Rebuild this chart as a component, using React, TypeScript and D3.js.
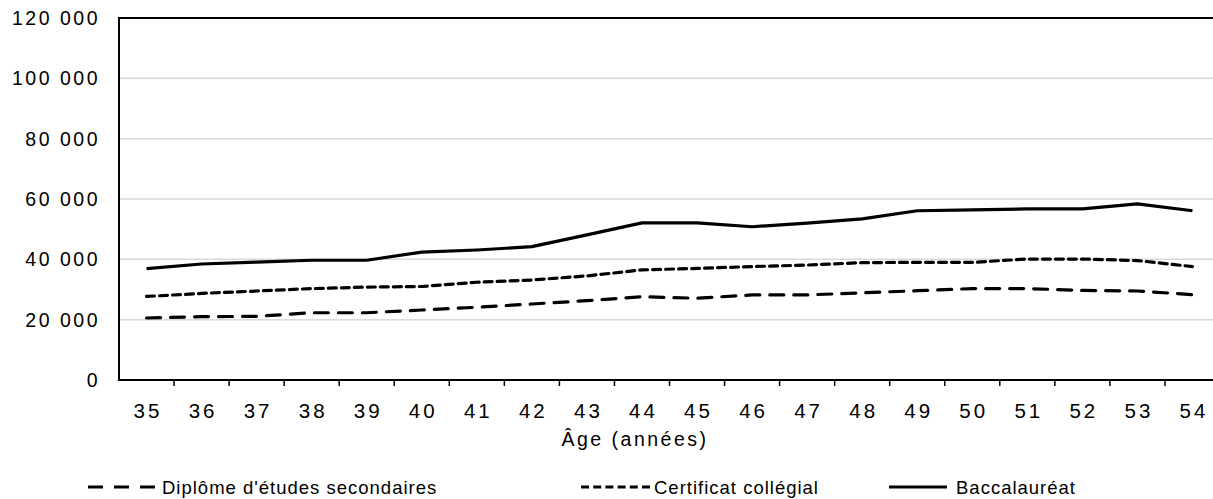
import React from "react";
import * as d3 from "d3";

const ages = ["35","36","37","38","39","40","41","42","43","44","45","46","47","48","49","50","51","52","53","54"];
const diplome = [20550,21000,21100,22300,22300,23200,24100,25200,26300,27600,27100,28200,28200,28900,29600,30300,30300,29700,29500,28300];
const certificat = [27700,28700,29500,30300,30800,31000,32400,33150,34500,36500,37000,37600,38100,38900,39000,39000,40100,40100,39600,37600];
const bacc = [36900,38450,39100,39700,39700,42400,43100,44200,48100,52100,52100,50800,52000,53400,56100,56400,56700,56700,58400,56100];
const yTicks = [0,20000,40000,60000,80000,100000,120000];
const seriesNames = ["Diplôme d'études secondaires","Certificat collégial","Baccalauréat"];
const dashes = ["14 10","8 5",""];

const W = 1213, H = 499;
const left = 119, right = 1220, top = 18, bottom = 380;
const font = "'Liberation Sans', Arial, sans-serif";

function fmt(v: number) {
  return d3.format(",")(v).replace(/,/g, " ");
}

export default function App() {
  const x = d3.scaleBand<string>().domain(ages).range([left, right]);
  const y = d3.scaleLinear().domain([0, 120000]).range([bottom, top]);
  const line = d3.line<number>()
    .x((_, i) => (x(ages[i]) as number) + x.bandwidth() / 2)
    .y((d) => y(d));
  const series = [diplome, certificat, bacc];
  const legendItems = [
    { sx: 88, sw: 67, tx: 162 },
    { sx: 581, sw: 69, tx: 654 },
    { sx: 889, sw: 58, tx: 956 },
  ];
  return (
    <svg width={W} height={H} style={{ position: "absolute", left: 0, top: 0, background: "#fff" }}>
      {yTicks.map((t) => (
        t > 0 && t < 120000 ? (
          <line key={"g" + t} x1={left} x2={W} y1={y(t)} y2={y(t)} stroke="#d9d9d9" strokeWidth={1.5} />
        ) : null
      ))}
      <line x1={left} x2={W} y1={top} y2={top} stroke="#000" strokeWidth={2} />
      {yTicks.map((t) => (
        <text key={"yl" + t} x={100} y={y(t) + 7} textAnchor="end" fontFamily={font} fontSize={19.5} letterSpacing={2.5} fill="#000">{fmt(t)}</text>
      ))}
      {series.map((s, i) => (
        <path key={"s" + i} d={line(s) as string} fill="none" stroke="#000" strokeWidth={3.2}
          strokeDasharray={dashes[i] || undefined} strokeLinecap={i === 2 ? "butt" : "round"} strokeLinejoin="round" />
      ))}
      <line x1={left} x2={left} y1={top - 1} y2={bottom + 1} stroke="#000" strokeWidth={2} />
      <line x1={left} x2={W} y1={bottom} y2={bottom} stroke="#000" strokeWidth={2} />
      {ages.slice(1).map((a) => (
        <line key={"t" + a} x1={x(a) as number} x2={x(a) as number} y1={bottom} y2={bottom + 6} stroke="#000" strokeWidth={1.5} />
      ))}
      {ages.map((a) => (
        <text key={"xl" + a} x={(x(a) as number) + x.bandwidth() / 2 + 1.5} y={418} textAnchor="middle" fontFamily={font} fontSize={20.5} letterSpacing={3} fill="#000">{a}</text>
      ))}
      <text x={635} y={446} textAnchor="middle" fontFamily={font} fontSize={19.5} letterSpacing={2.5} fill="#000">Âge (années)</text>
      {legendItems.map((l, i) => (
        <g key={"lg" + i}>
          <line x1={l.sx} x2={l.sx + l.sw} y1={487} y2={487} stroke="#000" strokeWidth={3.2}
            strokeDasharray={i === 0 ? "15 11" : i === 1 ? "8 4.2" : undefined} />
          <text x={l.tx} y={494} fontFamily={font} fontSize={18.5} letterSpacing={1} fill="#000">{seriesNames[i]}</text>
        </g>
      ))}
    </svg>
  );
}
